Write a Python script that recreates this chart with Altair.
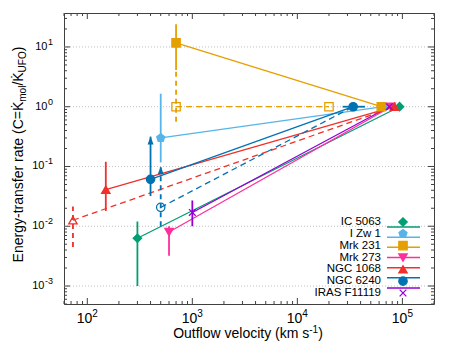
import altair as alt
import pandas as pd

# ---------------- data ----------------
names = ["IC 5063", "I Zw 1", "Mrk 231", "Mrk 273", "NGC 1068", "NGC 6240", "IRAS F11119"]
colors = ["#009E73", "#56B4E9", "#E69F00", "#FF2E9A", "#F0302A", "#0072B2", "#9400D3"]
PENT = "M0,-1L0.951,-0.309L0.588,0.809L-0.588,0.809L-0.951,-0.309Z"
XSHAPE = "M-0.8,-0.8L0.8,0.8M-0.8,0.8L0.8,-0.8"
shapes = ["diamond", PENT, "square", "triangle-down", "triangle-up", "circle", XSHAPE]

# molecular outflow (filled symbols)
v_mol = [300, 500, 700, 600, 150, 400, 1000]
c_mol = [0.0063, 0.30, 11.7, 0.0080, 0.041, 0.061, 0.017]
c_lo = [0.0010, 0.117, 4.1, 0.0032, 0.018, 0.032, 0.010]
c_hi = [0.012, 1.65, 24.0, 0.0100, 0.12, 0.316, 0.027]
# UFO end points
v_ufo = [94000, 66000, 63000, 78000, 84000, 34000, 75000]
c_ufo = [1.0, 1.0, 1.0, 1.0, 1.0, 1.0, 1.0]

# alternative estimates (open symbols, dashed)
alt_names = ["Mrk 231", "NGC 1068", "NGC 6240"]
alt_v = [700, 73, 500]
alt_c = [1.0, 0.0126, 0.0207]
alt_lo = [0.56, 0.0045, 0.010]
alt_hi = [4.1, 0.0215, 0.10]
alt_v_end = [20000, 84000, 34000]
alt_c_end = [1.0, 1.0, 1.0]
alt_end_open = [True, False, False]

# UFO velocity error bar of NGC 6240
ufo_err_name = ["NGC 6240"]
ufo_err_lo = [27000]
ufo_err_hi = [44000]
ufo_err_c = [1.0]

# lower-limit arrows
arrow_names = ["NGC 6240", "NGC 6240"]
arrow_v = [400, 500]
arrow_c = [0.316, 0.10]

# axes
x_major = [100, 1000, 10000, 100000]
x_major_exp = ["2", "3", "4", "5"]
y_major = [10, 1, 0.1, 0.01, 0.001]
y_major_exp = ["1", "0", "-1", "-2", "-3"]
x_minor = [k * 10 ** n for n in range(1, 6) for k in range(2, 10) if 60 <= k * 10 ** n <= 2e5]
y_minor = [k * 10.0 ** n for n in range(-4, 2) for k in range(2, 10) if 5e-4 <= k * 10.0 ** n <= 37]

W, H = 370, 291
FONT = "Liberation Sans"
AXC = "#404040"

AW = {' ': 278, '(': 333, ')': 333, '=': 584, '/': 278, '-': 333,
      'C': 722, 'E': 667, 'F': 611, 'K': 667, 'O': 778, 'U': 722,
      'a': 556, 'c': 500, 'e': 556, 'f': 278, 'g': 556, 'i': 222, 'k': 500, 'l': 222,
      'm': 833, 'n': 556, 'o': 556, 'r': 333, 's': 500, 't': 278, 'u': 556, 'v': 500,
      'w': 722, 'y': 500, '\u0307': 0}


def tw(s, size):
    return sum(AW.get(ch, 556) for ch in s) * size / 1000.0


xs = alt.Scale(type="log", domain=[60, 2e5], nice=False)
ys = alt.Scale(type="log", domain=[5e-4, 37], nice=False)
cs = alt.Scale(domain=names, range=colors)
ss = alt.Scale(domain=names, range=shapes)

main = pd.DataFrame({"name": names, "v": v_mol, "c": c_mol, "lo": c_lo, "hi": c_hi,
                     "vu": v_ufo, "cu": c_ufo})
altdf = pd.DataFrame({"name": alt_names, "v": alt_v, "c": alt_c, "lo": alt_lo, "hi": alt_hi,
                      "ve": alt_v_end, "ce": alt_c_end, "open": alt_end_open})
uerr = pd.DataFrame({"name": ufo_err_name, "lo": ufo_err_lo, "hi": ufo_err_hi, "c": ufo_err_c})
arr = pd.DataFrame({"name": arrow_names, "v": arrow_v, "c": arrow_c})

X = lambda f: alt.X(f, scale=xs, axis=None)
Y = lambda f: alt.Y(f, scale=ys, axis=None)
COL = alt.Color("name:N", scale=cs, legend=None)
SHP = alt.Shape("name:N", scale=ss, legend=None)

layers = []

# grid
layers.append(alt.Chart(pd.DataFrame({"y": y_major})).mark_rule(
    color="#c0c0c0", strokeDash=[1, 2], strokeWidth=1).encode(
    y=Y("y:Q"), x=alt.value(0), x2=alt.value(W)))

# connecting lines
layers.append(alt.Chart(main).mark_rule(strokeWidth=1.3).encode(
    x=X("v:Q"), x2="vu:Q", y=Y("c:Q"), y2="cu:Q", color=COL))
layers.append(alt.Chart(altdf).mark_rule(strokeWidth=1.3, strokeDash=[6, 4]).encode(
    x=X("v:Q"), x2="ve:Q", y=Y("c:Q"), y2="ce:Q", color=COL))

# error bars
layers.append(alt.Chart(main).mark_rule(strokeWidth=1.8).encode(
    x=X("v:Q"), y=Y("lo:Q"), y2="hi:Q", color=COL))
layers.append(alt.Chart(altdf).mark_rule(strokeWidth=1.8, strokeDash=[5, 4]).encode(
    x=X("v:Q"), y=Y("lo:Q"), y2="hi:Q", color=COL))
layers.append(alt.Chart(uerr).mark_rule(strokeWidth=1.8).encode(
    x=X("lo:Q"), x2="hi:Q", y=Y("c:Q"), color=COL))

# arrow heads
layers.append(alt.Chart(arr).mark_point(
    filled=True, opacity=1, size=36, shape="M0,0L-1,2.6L1,2.6Z").encode(
    x=X("v:Q"), y=Y("c:Q"), color=COL))

# open symbols
layers.append(alt.Chart(altdf).mark_point(filled=False, opacity=1, size=70, strokeWidth=1.3).encode(
    x=X("v:Q"), y=Y("c:Q"), color=COL, shape=SHP))
layers.append(alt.Chart(altdf).transform_filter("datum.open").mark_point(
    filled=False, opacity=1, size=70, strokeWidth=1.3).encode(
    x=X("ve:Q"), y=Y("ce:Q"), color=COL, shape=SHP))

# filled symbols
FILL = alt.Fill("name:N", scale=cs, legend=None)
STRK = alt.Stroke("name:N", scale=cs, legend=None)
layers.append(alt.Chart(main).mark_point(filled=True, opacity=1, size=70, strokeWidth=1.3).encode(
    x=X("v:Q"), y=Y("c:Q"), fill=FILL, stroke=STRK, shape=SHP))
layers.append(alt.Chart(main).mark_point(filled=True, opacity=1, size=70, strokeWidth=1.3).encode(
    x=X("vu:Q"), y=Y("cu:Q"), fill=FILL, stroke=STRK, shape=SHP))

# ticks (inward, mirrored)
for vals, ln in ((x_major, 6), (x_minor, 3)):
    d = pd.DataFrame({"x": vals})
    layers.append(alt.Chart(d).mark_rule(color=AXC, strokeWidth=1).encode(
        x=X("x:Q"), y=alt.value(H), y2=alt.value(H - ln)))
    layers.append(alt.Chart(d).mark_rule(color=AXC, strokeWidth=1).encode(
        x=X("x:Q"), y=alt.value(0), y2=alt.value(ln)))
for vals, ln in ((y_major, 6), (y_minor, 3)):
    d = pd.DataFrame({"y": vals})
    layers.append(alt.Chart(d).mark_rule(color=AXC, strokeWidth=1).encode(
        y=Y("y:Q"), x=alt.value(0), x2=alt.value(ln)))
    layers.append(alt.Chart(d).mark_rule(color=AXC, strokeWidth=1).encode(
        y=Y("y:Q"), x=alt.value(W), x2=alt.value(W - ln)))

# x tick labels
xl = pd.DataFrame({"x": x_major, "e": x_major_exp})
layers.append(alt.Chart(xl).mark_text(font=FONT, fontSize=14, align="right", dx=5,
                                      baseline="alphabetic", color="black").encode(
    x=X("x:Q"), y=alt.value(H + 19), text=alt.value("10")))
layers.append(alt.Chart(xl).mark_text(font=FONT, fontSize=10, align="left", dx=5,
                                      baseline="alphabetic", color="black").encode(
    x=X("x:Q"), y=alt.value(H + 13), text="e:N"))

# y tick labels
yl = pd.DataFrame({"y": y_major, "e": y_major_exp})
EXP_R = -11
for cond, wexp in (("datum.y >= 1", tw("1", 9)), ("datum.y < 1", tw("-1", 9))):
    layers.append(alt.Chart(yl).transform_filter(cond).mark_text(
        font=FONT, fontSize=11, align="right", baseline="middle", color="black").encode(
        y=Y("y:Q"), x=alt.value(EXP_R - wexp - 0.5), text=alt.value("10")))
layers.append(alt.Chart(yl).mark_text(font=FONT, fontSize=9, align="right", baseline="middle",
                                      dy=-5, color="black").encode(
    y=Y("y:Q"), x=alt.value(EXP_R), text="e:N"))

# x title
xparts = [("Outflow velocity (km s", 14, 0), ("-1", 10, -5), (")", 14, 0)]
xtot = sum(tw(s, f) for s, f, _ in xparts)
cx = 184 - xtot / 2
for s, f, off in xparts:
    layers.append(alt.Chart(pd.DataFrame({"t": [s]})).mark_text(
        font=FONT, fontSize=f, align="left", baseline="alphabetic", color="black").encode(
        x=alt.value(cx), y=alt.value(325 + off), text="t:N"))
    cx += tw(s, f)

# y title (rotated)
yparts = [("Energy-transfer rate (C=K\u0307", 14, 0), ("mol", 10, 3), ("/K\u0307", 14, 0),
          ("UFO", 10, 3), (")", 14, 0)]
ytot = sum(tw(s, f) for s, f, _ in yparts)
cy = 141.5 + ytot / 2
for s, f, off in yparts:
    layers.append(alt.Chart(pd.DataFrame({"t": [s]})).mark_text(
        font=FONT, fontSize=f, align="left", baseline="alphabetic", angle=270, color="black").encode(
        x=alt.value(-41 + off), y=alt.value(cy), text="t:N"))
    cy -= tw(s, f)

# legend
leg = pd.DataFrame({"name": names})
LY = alt.Y("name:N", scale=alt.Scale(domain=names, range=[209, 280], padding=0), axis=None)
layers.append(alt.Chart(leg).mark_text(font=FONT, fontSize=11.5, align="right", baseline="middle",
                                       color="black").encode(
    y=LY, x=alt.value(317), text="name:N"))
layers.append(alt.Chart(leg).mark_rule(strokeWidth=1.5).encode(
    y=LY, x=alt.value(323), x2=alt.value(356), color=COL))
layers.append(alt.Chart(leg).mark_point(filled=True, opacity=1, size=70, strokeWidth=1.3).encode(
    y=LY, x=alt.value(339), fill=FILL, stroke=STRK, shape=SHP))

chart = alt.layer(*layers).resolve_scale(y="independent").properties(
    width=W, height=H,
    autosize=alt.AutoSizeParams(type="none"),
    padding={"left": 56, "top": 5, "right": 14, "bottom": 42},
).configure_view(stroke=AXC, strokeWidth=1)

chart.save("out.html", embed_options={"renderer": "svg", "actions": False})
